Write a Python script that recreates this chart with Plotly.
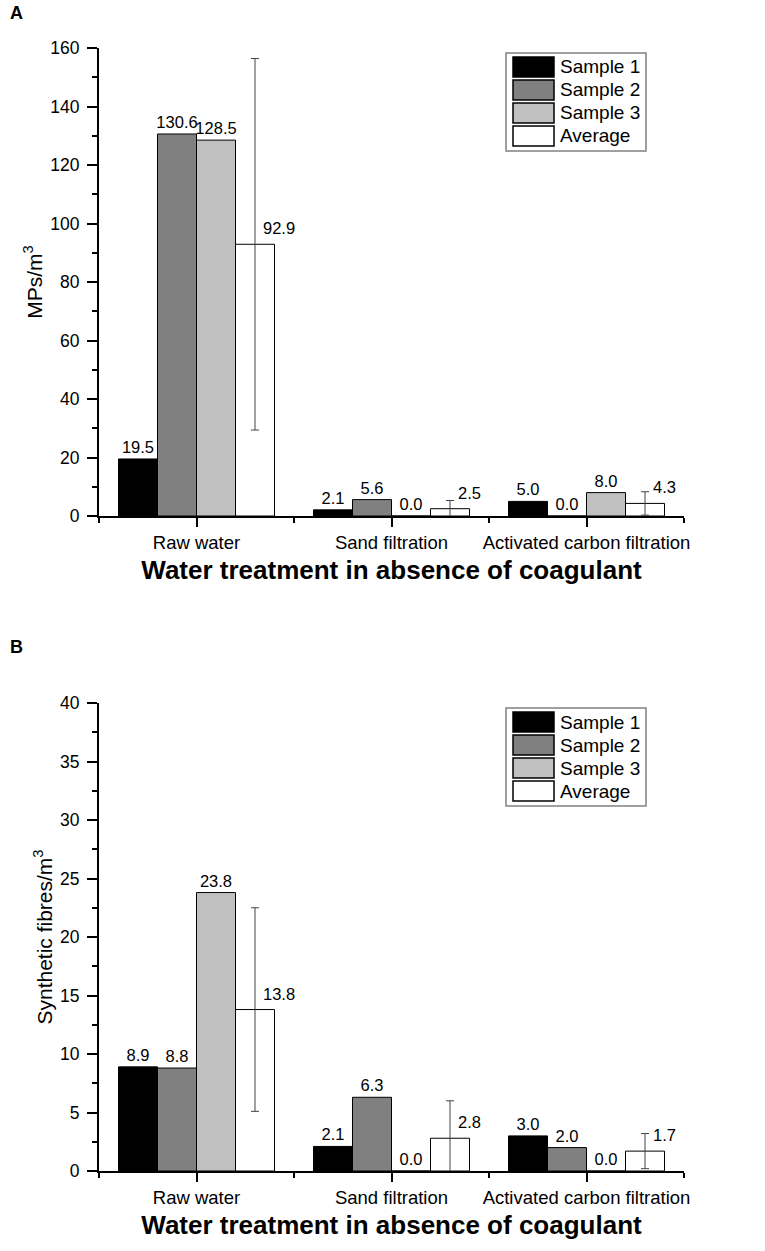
import plotly.graph_objects as go
from plotly.subplots import make_subplots

categories = ["Raw water", "Sand filtration", "Activated carbon filtration"]
series = ["Sample 1", "Sample 2", "Sample 3", "Average"]
colors = ["#000000", "#808080", "#c0c0c0", "#ffffff"]

# panel A - microplastics per m3
mps_s1 = [19.5, 2.1, 5.0]
mps_s2 = [130.6, 5.6, 0.0]
mps_s3 = [128.5, 0.0, 8.0]
mps_avg = [92.9, 2.5, 4.3]
mps_sd = [63.5, 2.8, 4.0]

# panel B - synthetic fibres per m3
fib_s1 = [8.9, 2.1, 3.0]
fib_s2 = [8.8, 6.3, 2.0]
fib_s3 = [23.8, 0.0, 0.0]
fib_avg = [13.8, 2.8, 1.7]
fib_sd = [8.7, 3.2, 1.5]

FONT = "Arial, 'Liberation Sans', sans-serif"
W, H = 765, 1251
# plot area in pixels
PX_L, PX_R = 99, 684
PANEL_TOP = [48, 703]
PANEL_H = 468

pos = list(range(1, len(categories) + 1))

fig = make_subplots(rows=2, cols=1)


def add_panel(row, s1, s2, s3, avg, sd):
    for name, col, vals in zip(series[:3], colors[:3], [s1, s2, s3]):
        fig.add_trace(go.Bar(
            x=pos, y=vals, name=name,
            marker=dict(color=col, line=dict(color="black", width=1)),
            text=[f"{v:.1f}" for v in vals], textposition="outside",
            textfont=dict(size=16.5, color="black", family=FONT),
            cliponaxis=False, constraintext="none", showlegend=False,
        ), row=row, col=1)
    fig.add_trace(go.Bar(
        x=pos, y=avg, name=series[3],
        marker=dict(color=colors[3], line=dict(color="black", width=1)),
        error_y=dict(type="data", array=sd, color="#444444", thickness=1, width=4),
        cliponaxis=False, showlegend=False,
    ), row=row, col=1)
    xr = "x" if row == 1 else "x2"
    yr = "y" if row == 1 else "y2"
    # average labels sit to the right of the error bar
    for p, v in zip(pos, avg):
        fig.add_annotation(x=p + 0.3, y=v, xref=xr, yref=yr, text=f"{v:.1f}",
                           showarrow=False, xanchor="left", yanchor="bottom",
                           xshift=6, yshift=5,
                           font=dict(size=16.5, color="black", family=FONT))


def add_legend(row):
    xr = "x domain" if row == 1 else "x2 domain"
    yr = "y domain" if row == 1 else "y2 domain"
    pw = PX_R - PX_L

    def fx(px):
        return px / pw

    def fy(px):
        return 1 - px / PANEL_H

    fig.add_shape(type="rect", xref=xr, yref=yr, x0=fx(407), x1=fx(547),
                  y0=fy(5), y1=fy(103), line=dict(color="#808080", width=1.5),
                  fillcolor="white", layer="above")
    for k, (name, col) in enumerate(zip(series, colors)):
        top = 9 + k * 23
        fig.add_shape(type="rect", xref=xr, yref=yr, x0=fx(414), x1=fx(455),
                      y0=fy(top), y1=fy(top + 20),
                      line=dict(color="black", width=1.5), fillcolor=col,
                      layer="above")
        fig.add_annotation(x=fx(459), y=fy(top + 10), xref=xr, yref=yr,
                           text=name, showarrow=False, xanchor="left",
                           yanchor="middle",
                           font=dict(size=19, color="black", family=FONT))


add_panel(1, mps_s1, mps_s2, mps_s3, mps_avg, mps_sd)
add_panel(2, fib_s1, fib_s2, fib_s3, fib_avg, fib_sd)
add_legend(1)
add_legend(2)

xdom = [PX_L / W, PX_R / W]
xaxis_style = dict(
    range=[0.5, 3.5], tickvals=pos, ticktext=categories,
    showline=True, linecolor="black", linewidth=2,
    ticks="outside", ticklen=9, tickwidth=2, tickcolor="black",
    minor=dict(dtick=0.5, tick0=0.5, ticks="outside", ticklen=5,
               tickwidth=2, tickcolor="black"),
    showgrid=False, zeroline=False, automargin=False,
    tickfont=dict(size=18.5, color="black", family=FONT),
    title=dict(text="<b>Water treatment in absence of coagulant</b>",
               font=dict(size=26, color="black", family=FONT), standoff=9),
    domain=xdom,
)
yaxis_style = dict(
    showline=True, linecolor="black", linewidth=2,
    ticks="outside", ticklen=10, tickwidth=2, tickcolor="black",
    showgrid=False, zeroline=False, ticklabelstandoff=4, automargin=False,
    tickfont=dict(size=17.5, color="black", family=FONT),
)

fig.update_xaxes(**xaxis_style)
fig.update_yaxes(**yaxis_style)

fig.update_yaxes(
    row=1, col=1, range=[0, 160], dtick=20,
    minor=dict(dtick=10, ticks="outside", ticklen=5, tickwidth=2, tickcolor="black"),
    title=dict(text="MPs/m<sup>3</sup>", font=dict(size=21, color="black", family=FONT),
               standoff=2),
    domain=[1 - (PANEL_TOP[0] + PANEL_H) / H, 1 - PANEL_TOP[0] / H],
)
fig.update_yaxes(
    row=2, col=1, range=[0, 40], dtick=5,
    minor=dict(dtick=2.5, ticks="outside", ticklen=5, tickwidth=2, tickcolor="black"),
    title=dict(text="Synthetic fibres/m<sup>3</sup>",
               font=dict(size=21, color="black", family=FONT), standoff=2),
    domain=[1 - (PANEL_TOP[1] + PANEL_H) / H, 1 - PANEL_TOP[1] / H],
)

for lab, ypx in [("A", 13), ("B", 647)]:
    fig.add_annotation(x=8 / W, y=1 - ypx / H, xref="paper", yref="paper",
                       text=f"<b>{lab}</b>", showarrow=False,
                       xanchor="left", yanchor="middle",
                       font=dict(size=18, color="black", family=FONT))

fig.update_layout(
    width=W, height=H,
    barmode="group", bargap=0.2, bargroupgap=0,
    plot_bgcolor="white", paper_bgcolor="white",
    margin=dict(l=0, r=0, t=0, b=0),
    showlegend=False,
    font=dict(family=FONT, color="black"),
)

# drop the browser's default page margin so the figure starts at the corner
fig.write_html("out.html", config={"displayModeBar": False},
               post_script="document.body.style.margin='0px';")
